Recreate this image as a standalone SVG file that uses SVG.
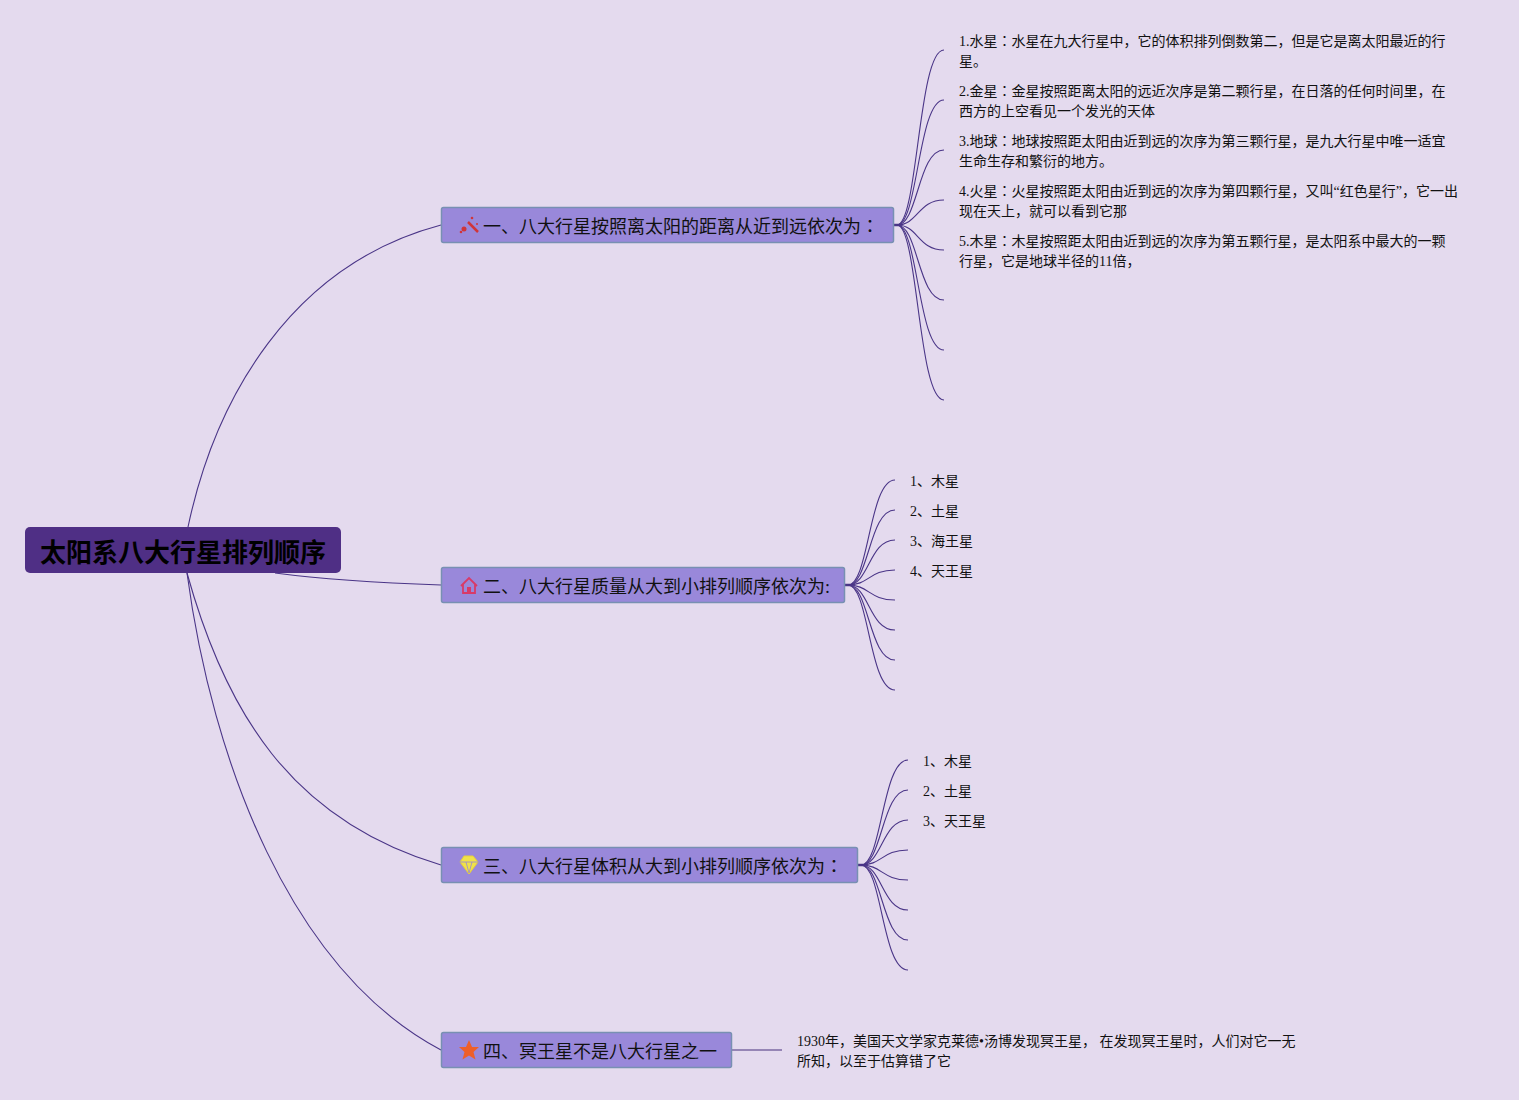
<svg xmlns="http://www.w3.org/2000/svg" width="1519" height="1100" viewBox="0 0 1519 1100">
<style>
text{font-family:"Liberation Serif","Noto Sans CJK SC",serif;fill:#111}
.l{font-size:14px}
.b{font-size:18px}
.k{font-family:"Noto Sans CJK TC",serif}
.bx{fill:#9988da;stroke:#7890b2;stroke-width:1.5}
.c path{fill:none;stroke:#4a3587;stroke-width:1.100}
.c .s{stroke-width:2.500}
.c .p{stroke:#9585b5;stroke-width:2}
</style>
<rect width="1519" height="1100" fill="#e4daee"/>
<g id="connectors" class="c">
<path d="M188 527C215 400 290 265 441 225"/>
<path d="M275 573C320 579 380 583 441 585"/>
<path d="M187 573C225 710 290 820 441 865"/>
<path d="M187 573C212 760 290 970 441 1050"/>
<path class="s" d="M894 225H900"/>
<path d="M897 225C918 225 918 50 944 50"/>
<path d="M897 225C918 225 918 100 944 100"/>
<path d="M897 225C918 225 918 150 944 150"/>
<path d="M897 225C918 225 918 200 944 200"/>
<path d="M897 225C918 225 918 250 944 250"/>
<path d="M897 225C918 225 918 300 944 300"/>
<path d="M897 225C918 225 918 350 944 350"/>
<path d="M897 225C918 225 918 400 944 400"/>
<path class="s" d="M845 585H851"/>
<path d="M848 585C869 585 869 480 895 480"/>
<path d="M848 585C869 585 869 510 895 510"/>
<path d="M848 585C869 585 869 540 895 540"/>
<path d="M848 585C869 585 869 570 895 570"/>
<path d="M848 585C869 585 869 600 895 600"/>
<path d="M848 585C869 585 869 630 895 630"/>
<path d="M848 585C869 585 869 660 895 660"/>
<path d="M848 585C869 585 869 690 895 690"/>
<path class="s" d="M858 865H864"/>
<path d="M861 865C882 865 882 760 908 760"/>
<path d="M861 865C882 865 882 790 908 790"/>
<path d="M861 865C882 865 882 820 908 820"/>
<path d="M861 865C882 865 882 850 908 850"/>
<path d="M861 865C882 865 882 880 908 880"/>
<path d="M861 865C882 865 882 910 908 910"/>
<path d="M861 865C882 865 882 940 908 940"/>
<path d="M861 865C882 865 882 970 908 970"/>
<path class="p" d="M732 1050H782"/>
</g>
<g id="root">
<rect x="25" y="527" width="316" height="46" rx="5" fill="#4f2f85"/>
<text x="40" y="562" font-size="26" font-weight="700" style="fill:#000">太阳系八大行星排列顺序</text>
</g>
<g id="n1">
<rect class="bx" x="441.500" y="207.500" width="452" height="35" rx="2"/>
<g fill="#d0353a"><path d="M468 222l10 10" stroke="#d0353a" stroke-width="2.500"/><circle cx="464" cy="229" r="2.500"/><circle cx="472" cy="218" r="1.300"/><circle cx="477" cy="224" r="1"/><circle cx="461" cy="232" r="1.300"/></g>
<text class="b" x="483" y="233">一、八大行星按照离太阳的距离从近到远依次为<tspan class="k">：</tspan></text>
</g>
<g id="n2">
<rect class="bx" x="441.500" y="567.500" width="403" height="35" rx="2"/>
<path d="M461 586l8-8 8 8M463 584v9h12v-9" fill="none" stroke="#d83a68" stroke-width="1.800"/><rect x="467" y="587" width="4" height="6" fill="#d83a68"/>
<text class="b" x="483" y="593">二、八大行星质量从大到小排列顺序依次为:</text>
</g>
<g id="n3">
<rect class="bx" x="441.500" y="847.500" width="416" height="35" rx="2"/>
<path d="M464 856h9l5 6-9 12-9-12z" fill="#f0e24a" stroke="#e6cf3a"/><path d="M460 862h18M466 862l3 11 3-11" fill="none" stroke="#9787d8" stroke-width=".8"/>
<text class="b" x="483" y="873">三、八大行星体积从大到小排列顺序依次为<tspan class="k">：</tspan></text>
</g>
<g id="n4">
<rect class="bx" x="441.500" y="1032.500" width="290" height="35" rx="2"/>
<path d="M469 1040l3 7h7l-5.500 5 2 7.500-6.500-4-6.500 4 2-7.500-5.500-5h7z" fill="#ee5f2a"/>
<text class="b" x="483" y="1058">四、冥王星不是八大行星之一</text>
</g>
<g id="t1"><text class="l" x="959" y="46">1.水星<tspan class="k">：</tspan>水星在九大行星中，它的体积排列倒数第二，但是它是离太阳最近的行</text><text class="l" x="959" y="66">星。</text></g>
<g id="t2"><text class="l" x="959" y="96">2.金星<tspan class="k">：</tspan>金星按照距离太阳的远近次序是第二颗行星，在日落的任何时间里，在</text><text class="l" x="959" y="116">西方的上空看见一个发光的天体</text></g>
<g id="t3"><text class="l" x="959" y="146">3.地球<tspan class="k">：</tspan>地球按照距太阳由近到远的次序为第三颗行星，是九大行星中唯一适宜</text><text class="l" x="959" y="166">生命生存和繁衍的地方。</text></g>
<g id="t4"><text class="l" x="959" y="196">4.火星<tspan class="k">：</tspan>火星按照距太阳由近到远的次序为第四颗行星，又叫“红色星行”，它一出</text><text class="l" x="959" y="216">现在天上，就可以看到它那</text></g>
<g id="t5"><text class="l" x="959" y="246">5.木星<tspan class="k">：</tspan>木星按照距太阳由近到远的次序为第五颗行星，是太阳系中最大的一颗</text><text class="l" x="959" y="266">行星，它是地球半径的11倍，</text></g>
<g id="a1"><text class="l" x="910" y="486">1、木星</text></g>
<g id="a2"><text class="l" x="910" y="516">2、土星</text></g>
<g id="a3"><text class="l" x="910" y="546">3、海王星</text></g>
<g id="a4"><text class="l" x="910" y="576">4、天王星</text></g>
<g id="b1"><text class="l" x="923" y="766">1、木星</text></g>
<g id="b2"><text class="l" x="923" y="796">2、土星</text></g>
<g id="b3"><text class="l" x="923" y="826">3、天王星</text></g>
<g id="d1"><text class="l" x="797" y="1046">1930年，美国天文学家克莱德•汤博发现冥王星， 在发现冥王星时，人们对它一无</text><text class="l" x="797" y="1066">所知，以至于估算错了它</text></g>
</svg>
